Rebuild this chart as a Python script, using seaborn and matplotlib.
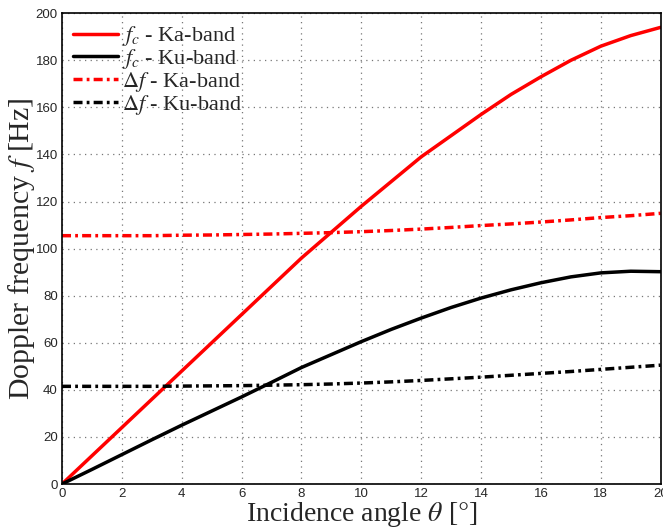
import numpy as np
import pandas as pd
import seaborn as sns
import matplotlib.pyplot as plt

# Data
theta = list(range(0, 21))
fc_ka = [0, 12, 24, 36, 48, 60, 72, 84, 96, 107, 118, 128.5, 139, 148, 157,
         165.5, 173, 180, 186, 190.5, 194]
fc_ku = [0, 6.2, 12.5, 18.8, 25, 31, 37, 43.2, 49.5, 55, 60.5, 65.7, 70.5, 75,
         79, 82.5, 85.5, 88, 89.7, 90.4, 90.2]
df_ka = [105.5, 105.5, 105.5, 105.5, 105.7, 105.8, 106, 106.2, 106.5, 106.8,
         107.2, 107.7, 108.3, 109, 109.8, 110.5, 111.3, 112.2, 113.2, 114, 115]
df_ku = [41.5, 41.5, 41.5, 41.5, 41.6, 41.7, 41.8, 42, 42.2, 42.5, 42.9, 43.4,
         44, 44.7, 45.4, 46.2, 47, 47.8, 48.7, 49.6, 50.5]

sns.set_style('white', {'xtick.direction': 'in', 'ytick.direction': 'in'})
plt.rcParams['mathtext.fontset'] = 'stix'

fig = plt.figure(figsize=(6.63, 5.29), dpi=100)
ax = fig.add_axes([0.0935, 0.085, 0.903, 0.89])

series = [
    (fc_ka, r'$f_c$ - Ka-band', 'red', '-'),
    (fc_ku, r'$f_c$ - Ku-band', 'black', '-'),
    (df_ka, r'$\Delta f$ - Ka-band', 'red', '-.'),
    (df_ku, r'$\Delta f$ - Ku-band', 'black', '-.'),
]
for vals, label, color, ls in series:
    line = sns.lineplot(x=theta, y=vals, ax=ax, color=color, linewidth=2.5,
                        label=label).get_lines()[-1]
    if ls == '-.':
        line.set_dashes([2.6, 1.2, 0.8, 1.2])

ax.set_xlim(0, 20)
ax.set_ylim(0, 200)
ax.set_xticks(range(0, 21, 2))
ax.set_yticks(range(0, 201, 20))
ax.grid(True, linestyle=(0, (1, 3.5)), color='#777777', linewidth=0.9)
for s in ax.spines.values():
    s.set_color('black')
    s.set_linewidth(1.2)
ax.tick_params(labelsize=9.5, length=4, color='black', pad=3)
for lab in ax.get_xticklabels() + ax.get_yticklabels():
    lab.set_family('Liberation Sans')

ax.set_xlabel(r'Incidence angle $\theta$ [$\degree$]', fontsize=20,
              family='Liberation Serif', labelpad=0)
ax.set_ylabel(r'Doppler frequency $f$ [Hz]', fontsize=21.5,
              family='Liberation Serif', labelpad=-1)

leg = ax.legend(loc='upper left', frameon=False,
                prop={'family': 'Liberation Serif', 'size': 16},
                handlelength=2.0, handletextpad=0.2, labelspacing=-0.05,
                borderaxespad=0.3, borderpad=0.2)

fig.savefig('out.png', dpi=100)
